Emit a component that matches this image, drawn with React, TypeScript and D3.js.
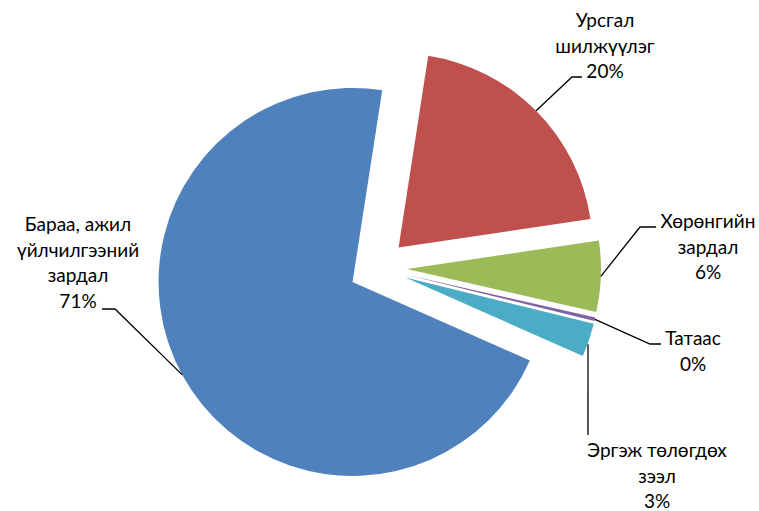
import React from "react";
import * as d3 from "d3";

const categories = [
  "Урсгал шилжүүлэг",
  "Хөрөнгийн зардал",
  "Татаас",
  "Эргэж төлөгдөх зээл",
  "Бараа, ажил үйлчилгээний зардал",
];
const values = [20.2, 5.9, 0.3, 2.8, 70.8];
const percentLabels = ["20%", "6%", "0%", "3%", "71%"];
const labelLines = [
  ["Урсгал", "шилжүүлэг", "20%"],
  ["Хөрөнгийн", "зардал", "6%"],
  ["Татаас", "0%"],
  ["Эргэж төлөгдөх", "зээл", "3%"],
  ["Бараа, ажил", "үйлчилгээний", "зардал", "71%"],
];
const colors = ["#C0504D", "#9BBB59", "#8064A2", "#4BACC6", "#4F81BD"];

// layout (positions of label text and leader elbows)
const labelLayout = [
  { x: 605, y: 27, elbow: [572, 77], end: [582, 77] },
  { x: 708, y: 228, elbow: [640, 227], end: [656, 227] },
  { x: 693, y: 345, elbow: [650, 344], end: [661, 344] },
  { x: 657, y: 457, elbow: [588, 360], end: [588, 435] },
  { x: 78, y: 231, elbow: [115, 309], end: [102, 309] },
];

const W = 759;
const H = 511;
const cx = 378;
const cy = 268;
const R = 194;
const explode = 29;
const lineH = 25.5;

export default function App() {
  const pie = d3
    .pie<number>()
    .sort(null)
    .startAngle((8.8 * Math.PI) / 180)
    .endAngle((8.8 * Math.PI) / 180 + 2 * Math.PI)(values);
  const arc = d3.arc<d3.PieArcDatum<number>>().innerRadius(0).outerRadius(R);

  return (
    <svg
      width={W}
      height={H}
      style={{ position: "absolute", left: 0, top: 0, background: "#fff" }}
      fontFamily="Lato, 'Liberation Sans', sans-serif"
    >
      {pie.map((p, i) => {
        const mid = (p.startAngle + p.endAngle) / 2;
        const ox = cx + explode * Math.sin(mid);
        const oy = cy - explode * Math.cos(mid);
        return (
          <g key={categories[i]} transform={`translate(${ox},${oy})`}>
            <path d={arc(p) || ""} fill={colors[i]} />
          </g>
        );
      })}
      {pie.map((p, i) => {
        const mid = (p.startAngle + p.endAngle) / 2;
        const ox = cx + explode * Math.sin(mid);
        const oy = cy - explode * Math.cos(mid);
        const ax = ox + R * Math.sin(mid);
        const ay = oy - R * Math.cos(mid);
        const L = labelLayout[i];
        const pts = i === 3 ? [[ax - 1, ay + 4], L.end] : [[ax, ay], L.elbow, L.end];
        return (
          <g key={"l" + i}>
            <polyline
              points={pts.map((q) => q.join(",")).join(" ")}
              fill="none"
              stroke="#000"
              strokeWidth={1.3}
            />
            <text textAnchor="middle" fontSize={19} fill="#000">
              {labelLines[i].map((t, k) => (
                <tspan key={k} x={L.x} y={L.y + k * lineH}>
                  {t}
                </tspan>
              ))}
            </text>
          </g>
        );
      })}
    </svg>
  );
}
